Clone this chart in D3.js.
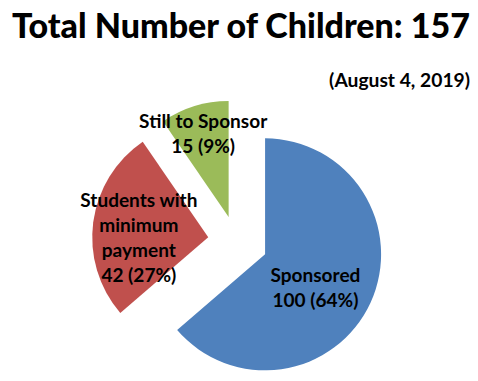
<!DOCTYPE html>
<html>
<head>
<meta charset="utf-8">
<script src="https://cdn.jsdelivr.net/npm/d3@7"></script>
<style>
  body { margin: 0; background: #fff; }
  text { font-family: Lato, "Open Sans", sans-serif; font-weight: bold; fill: #000; }
</style>
</head>
<body>
<div id="chart"></div>
<script>
// data
var categories = ["Sponsored", "Students with minimum payment", "Still to Sponsor"];
var labelLines = [["Sponsored"], ["Students with", "minimum", "payment"], ["Still to Sponsor"]];
var counts = [100, 42, 15];
var percents = [64, 27, 9];
var colors = ["#4F81BD", "#C0504D", "#9BBB59"];
var titleText = "Total Number of Children: 157";
var subtitleText = "(August 4, 2019)";

// layout
var width = 478, height = 381;
var cx = 236, cy = 241, radius = 116;
var explode = [32, 28, 25];
var labelRadius = [62, 70, 86];
var labelNudge = [[-6, 8], [0, 10], [0, 0]];

var svg = d3.select("#chart")
    .append("svg")
    .attr("width", width)
    .attr("height", height);

// title, fitted to the width in the picture
var title = svg.append("text")
    .attr("x", 241)
    .attr("y", 38)
    .attr("text-anchor", "middle")
    .style("font-size", "32px")
    .style("font-weight", "900")
    .text(titleText);
var tw = title.node().getComputedTextLength();
title.style("font-size", (32 * 458 / tw) + "px");

var sub = svg.append("text")
    .attr("x", 470)
    .attr("y", 87)
    .attr("text-anchor", "end")
    .style("font-size", "15px")
    .text(subtitleText);
var sw = sub.node().getComputedTextLength();
sub.style("font-size", (15 * 141 / sw) + "px");

var pieData = counts.map(function (d, i) {
    return { name: categories[i], value: d, color: colors[i], i: i };
});

var pie = d3.pie().sort(null).value(function (d) { return d.value; });
var arc = d3.arc().innerRadius(0).outerRadius(radius);

var g = svg.append("g")
    .attr("transform", "translate(" + cx + "," + cy + ")");

var slices = g.selectAll("g.slice")
    .data(pie(pieData))
    .enter()
    .append("g")
    .attr("class", "slice")
    .attr("transform", function (d) {
        var a = (d.startAngle + d.endAngle) / 2;
        var e = explode[d.data.i];
        return "translate(" + (Math.sin(a) * e) + "," + (-Math.cos(a) * e) + ")";
    });

slices.append("path")
    .attr("d", arc)
    .attr("fill", function (d) { return d.data.color; });

// labels
var labelSize = 17;
var lineGap = 25;
var labels = slices.append("text")
    .attr("text-anchor", "middle")
    .style("font-size", labelSize + "px")
    .attr("transform", function (d) {
        var a = (d.startAngle + d.endAngle) / 2;
        var r = labelRadius[d.data.i];
        var n = labelNudge[d.data.i];
        return "translate(" + (Math.sin(a) * r + n[0]) + "," + (-Math.cos(a) * r + n[1]) + ")";
    });

labels.each(function (d) {
    var lines = labelLines[d.data.i].concat([d.data.value + " (" + percents[d.data.i] + "%)"]);
    var t = d3.select(this);
    var y0 = -(lines.length - 1) * lineGap / 2 + 6;
    lines.forEach(function (l, k) {
        t.append("tspan")
            .attr("x", 0)
            .attr("y", y0 + k * lineGap)
            .text(l);
    });
});

// fit label font to the width of "Sponsored" in the picture (about 90px)
var probe = labels.filter(function (d) { return d.data.i === 0; }).select("tspan").node();
var pw = probe.getComputedTextLength();
labels.style("font-size", (labelSize * 90 / pw) + "px");
</script>
</body>
</html>
